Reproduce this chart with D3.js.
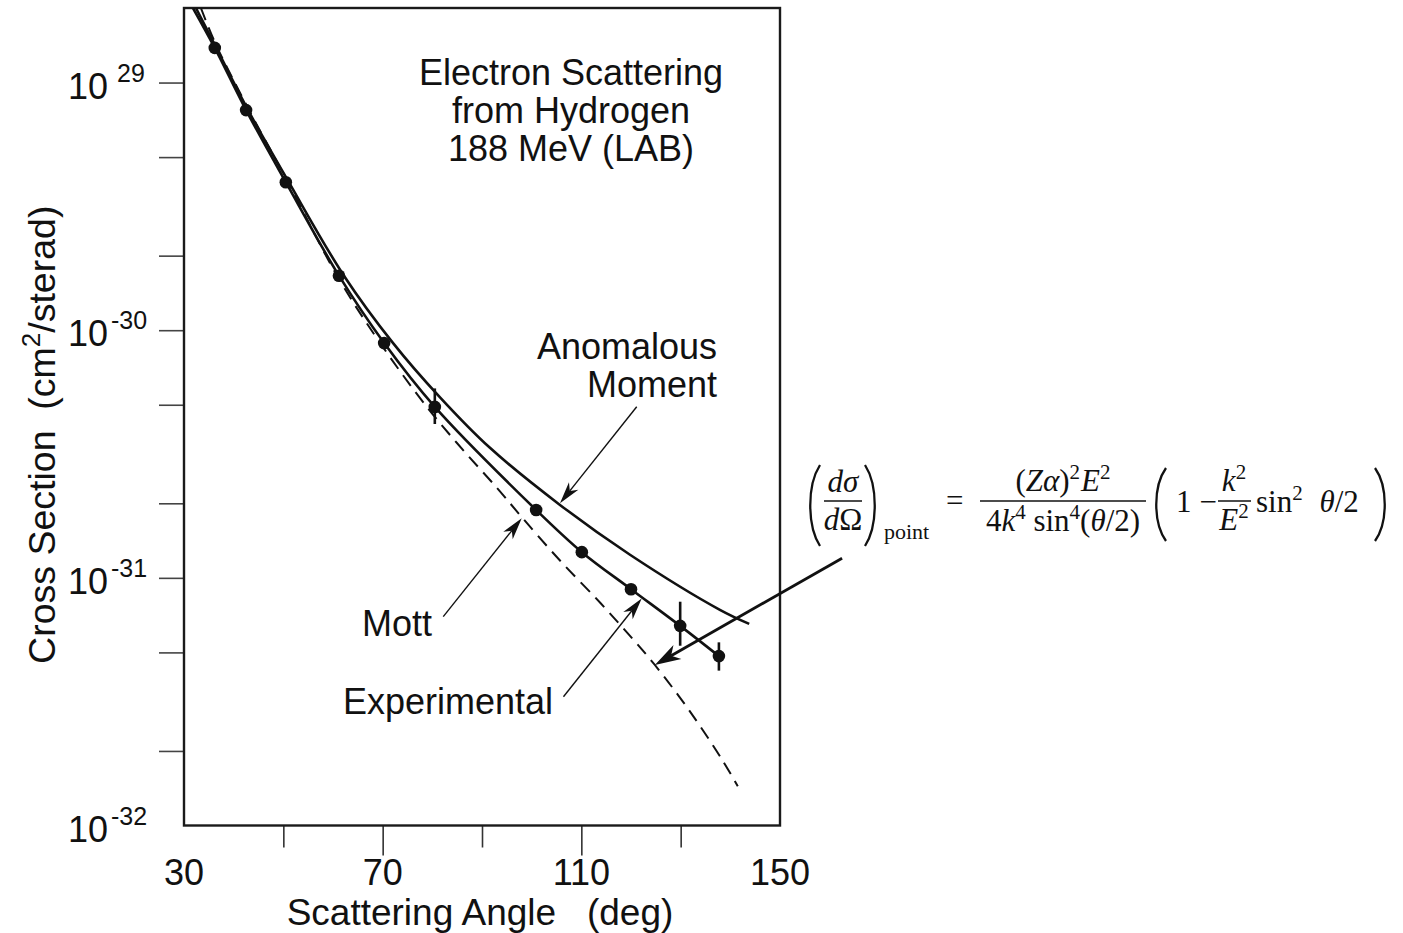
<!DOCTYPE html>
<html>
<head>
<meta charset="utf-8">
<script src="https://cdn.jsdelivr.net/npm/d3@7"></script>
<style>
  body { margin: 0; background: #fff; }
  svg text { font-family: "Liberation Sans", Arial, Helvetica, sans-serif; fill: #111; white-space: pre; }
  .tex text { font-family: "Liberation Serif", "Times New Roman", serif; }
</style>
</head>
<body>
<svg id="chart" width="1403" height="933"></svg>
<script>
// Electron scattering from hydrogen, 188 MeV (LAB)
// angles in degrees, cross sections in cm^2/sterad

// measured points
const measuredAngles = [36.2, 42.5, 50.5, 61.2, 70.3, 80.5, 100.9, 110.1, 120.0, 129.9, 137.7];
const measuredValues = [1.38e-29, 7.74e-30, 3.96e-30, 1.66e-30, 8.87e-31, 4.90e-31, 1.88e-31, 1.27e-31, 9.0e-32, 6.4e-32, 4.83e-32];
// error bars
const errorAngles = [80.5, 129.9, 137.7];
const errorLow = [4.18e-31, 5.32e-32, 4.22e-32];
const errorHigh = [5.82e-31, 8.01e-32, 5.49e-32];

// experimental fit curve
const fitAngles = [31.8, 36.2, 42.5, 50.5, 61.2, 70.3, 80.5, 100.9, 110.1, 120.0, 129.9, 137.7];
const fitValues = [2.0e-29, 1.38e-29, 7.74e-30, 3.96e-30, 1.66e-30, 8.87e-31, 4.90e-31, 1.88e-31, 1.27e-31, 9.0e-32, 6.4e-32, 4.83e-32];

// point-charge (Mott) curve
const mottAngles = [33.4, 36.4, 42.7, 50.9, 61.2, 69.5, 78.9, 86.2, 93.0, 98.1, 105.7, 113.8, 119.8, 124.8, 131.7, 138.3, 141.5];
const mottValues = [2.0e-29, 1.426e-29, 8.02e-30, 3.96e-30, 1.61e-30, 8.87e-31, 4.90e-31, 3.28e-31, 2.31e-31, 1.75e-31, 1.175e-31, 7.93e-32, 5.83e-32, 4.45e-32, 2.92e-32, 1.85e-32, 1.44e-32];

// anomalous magnetic moment curve
const anomAngles = [32.4, 36.5, 42.9, 51.1, 62.2, 72.1, 81.5, 91.6, 105.7, 119.8, 137.9, 143.8];
const anomValues = [2.0e-29, 1.38e-29, 7.74e-30, 3.96e-30, 1.66e-30, 8.87e-31, 5.37e-31, 3.35e-31, 1.97e-31, 1.24e-31, 7.43e-32, 6.52e-32];

// axis ticks
const xMajorTicks = [70, 110];
const xMinorTicks = [50, 90, 130];
const xTickLabels = [30, 70, 110, 150];
const yTicks = [1e-29, 5e-30, 2e-30, 1e-30, 5e-31, 2e-31, 1e-31, 5e-32, 2e-32];
const yLabelValues = [1e-29, 1e-30, 1e-31, 1e-32];
const yLabelExponents = ["29", "-30", "-31", "-32"];

// annotation arrows: [angle0, value0, angle1, value1] (tail -> head)
const arrowAnom = [121.15, 4.91e-31, 105.7, 2.0e-31];
const arrowMott = [82.2, 6.97e-32, 98.0, 1.74e-31];
const arrowExp = [106.4, 3.31e-32, 122.15, 8.26e-32];
const arrowFormula = [162.5, 1.20e-31, 124.8, 4.45e-32];

const svg = d3.select("#chart");
const plot = { left: 184, right: 780, top: 8, bottom: 825.5 };

const x = d3.scaleLinear().domain([30, 150]).range([plot.left, plot.right]);
const y = d3.scaleLog().domain([1e-32, 2e-29]).range([plot.bottom, plot.top]);

svg.append("defs").append("clipPath").attr("id", "plotClip")
  .append("rect")
  .attr("x", plot.left).attr("y", plot.top)
  .attr("width", plot.right - plot.left).attr("height", plot.bottom - plot.top);

// y ticks (outside, left)
const yAxis = svg.append("g")
  .attr("transform", `translate(${plot.left},0)`)
  .call(d3.axisLeft(y).tickValues(yTicks).tickSize(25).tickFormat(""));
yAxis.select(".domain").remove();
yAxis.selectAll(".tick line").attr("stroke", "#444").attr("stroke-width", 1.6);

// x ticks (outside, below)
const xMinor = svg.append("g")
  .attr("transform", `translate(0,${plot.bottom})`)
  .call(d3.axisBottom(x).tickValues(xMinorTicks).tickSize(22).tickFormat(""));
const xMajor = svg.append("g")
  .attr("transform", `translate(0,${plot.bottom})`)
  .call(d3.axisBottom(x).tickValues(xMajorTicks).tickSize(30).tickFormat(""));
[xMinor, xMajor].forEach(g => {
  g.select(".domain").remove();
  g.selectAll(".tick line").attr("stroke", "#333").attr("stroke-width", 1.6);
});

// frame
svg.append("rect")
  .attr("x", plot.left).attr("y", plot.top)
  .attr("width", plot.right - plot.left).attr("height", plot.bottom - plot.top)
  .attr("fill", "none").attr("stroke", "#1a1a1a").attr("stroke-width", 2.4);

// tick labels
const fs = 36;
svg.append("g").selectAll("text").data(xTickLabels).join("text")
  .attr("x", d => x(d)).attr("y", 885)
  .attr("text-anchor", "middle").attr("font-size", fs)
  .text(d => d);

const yl = svg.append("g").selectAll("text").data(yLabelValues).join("text")
  .attr("x", 68).attr("y", d => y(d) + 16)
  .attr("font-size", fs);
yl.append("tspan").text("10");
yl.append("tspan")
  .attr("dx", (d, i) => yLabelExponents[i] === "29" ? 9 : 3)
  .attr("dy", -17).attr("font-size", 25)
  .text((d, i) => yLabelExponents[i]);

// axis titles
svg.append("text")
  .attr("x", 480).attr("y", 925)
  .attr("text-anchor", "middle").attr("font-size", 37)
  .text("Scattering Angle   (deg)");

const ytitle = svg.append("text")
  .attr("transform", `translate(55,${(plot.top + plot.bottom) / 2 + 18}) rotate(-90)`)
  .attr("text-anchor", "middle").attr("font-size", 37.5);
ytitle.append("tspan").text("Cross Section  (cm");
ytitle.append("tspan").attr("dy", -15).attr("font-size", 26).text("2");
ytitle.append("tspan").attr("dy", 15).text("/sterad)");

// chart title
const titleLines = ["Electron Scattering", "from Hydrogen", "188 MeV (LAB)"];
svg.append("g").selectAll("text").data(titleLines).join("text")
  .attr("x", 571).attr("y", (d, i) => 85 + i * 38)
  .attr("text-anchor", "middle").attr("font-size", fs)
  .text(d => d);

// curves
const curves = svg.append("g").attr("clip-path", "url(#plotClip)");
const line = d3.line().x(d => x(d[0])).y(d => y(d[1])).curve(d3.curveCatmullRom.alpha(0.5));

curves.append("path")
  .datum(mottAngles.map((a, i) => [a, mottValues[i]]))
  .attr("d", line).attr("fill", "none")
  .attr("stroke", "#111").attr("stroke-width", 2)
  .attr("stroke-dasharray", "13 8");

curves.append("path")
  .datum(anomAngles.map((a, i) => [a, anomValues[i]]))
  .attr("d", line).attr("fill", "none")
  .attr("stroke", "#111").attr("stroke-width", 2.6);

curves.append("path")
  .datum(fitAngles.map((a, i) => [a, fitValues[i]]))
  .attr("d", line).attr("fill", "none")
  .attr("stroke", "#111").attr("stroke-width", 2.6);

// error bars and points
svg.append("g").selectAll("line").data(errorAngles).join("line")
  .attr("x1", d => x(d)).attr("x2", d => x(d))
  .attr("y1", (d, i) => y(errorHigh[i])).attr("y2", (d, i) => y(errorLow[i]))
  .attr("stroke", "#111").attr("stroke-width", 2.6);

svg.append("g").selectAll("circle").data(measuredAngles).join("circle")
  .attr("cx", d => x(d)).attr("cy", (d, i) => y(measuredValues[i]))
  .attr("r", 6.3).attr("fill", "#111");

// arrows
function arrow(spec, width, headLen, headW) {
  const x0 = x(spec[0]), y0 = y(spec[1]), x1 = x(spec[2]), y1 = y(spec[3]);
  const dx = x1 - x0, dy = y1 - y0, len = Math.hypot(dx, dy);
  const ux = dx / len, uy = dy / len, px = -uy, py = ux;
  const bx = x1 - ux * headLen, by = y1 - uy * headLen;
  const nx = x1 - ux * headLen * 0.72, ny = y1 - uy * headLen * 0.72;
  svg.append("line")
    .attr("x1", x0).attr("y1", y0).attr("x2", nx).attr("y2", ny)
    .attr("stroke", "#111").attr("stroke-width", width);
  svg.append("path")
    .attr("d", `M${x1},${y1}L${bx + px * headW / 2},${by + py * headW / 2}L${nx},${ny}L${bx - px * headW / 2},${by - py * headW / 2}Z`)
    .attr("fill", "#111");
}
arrow(arrowAnom, 1.4, 22, 12);
arrow(arrowMott, 1.4, 22, 12);
arrow(arrowExp, 1.4, 22, 12);
arrow(arrowFormula, 2.8, 26, 16);

// curve labels
const labels = [
  { t: "Anomalous", x: 717, y: 359, a: "end" },
  { t: "Moment", x: 717, y: 397, a: "end" },
  { t: "Mott", x: 362, y: 636, a: "start" },
  { t: "Experimental", x: 343, y: 714, a: "start" }
];
svg.append("g").selectAll("text").data(labels).join("text")
  .attr("x", d => d.x).attr("y", d => d.y)
  .attr("text-anchor", d => d.a).attr("font-size", fs)
  .text(d => d.t);

// point-charge cross section formula
const tex = svg.append("g").attr("class", "tex");
const tfs = 31, sfs = 21, sup = -12;
function bigParen(x0, top, bot, open) {
  const w = 13, mid = (top + bot) / 2;
  const xe = open ? x0 + w : x0, xm = open ? x0 : x0 + w;
  tex.append("path")
    .attr("d", `M${xe},${top}C${xm},${mid - (bot - top) * 0.25} ${xm},${mid + (bot - top) * 0.25} ${xe},${bot}`)
    .attr("fill", "none").attr("stroke", "#111").attr("stroke-width", 2.3);
}
function bar(x0, x1, barY) {
  tex.append("line").attr("x1", x0).attr("x2", x1).attr("y1", barY).attr("y2", barY)
    .attr("stroke", "#111").attr("stroke-width", 1.4);
}
function txt(xp, yp, anchor, parts, size) {
  const t = tex.append("text").attr("x", xp).attr("y", yp)
    .attr("text-anchor", anchor).attr("font-size", size || tfs);
  parts.forEach(p => {
    const s = t.append("tspan").text(p.s);
    if (p.i) s.attr("font-style", "italic");
    if (p.fs) s.attr("font-size", p.fs);
    if (p.dy) s.attr("dy", p.dy);
    if (p.dx) s.attr("dx", p.dx);
  });
  return t;
}
// (dσ/dΩ)_point
bigParen(807, 465, 546, true);
txt(843, 492, "middle", [{ s: "dσ", i: true }]);
bar(824, 862, 501);
txt(843, 530, "middle", [{ s: "d", i: true }, { s: "Ω" }]);
bigParen(865, 465, 546, false);
txt(884, 539, "start", [{ s: "point" }], 22);
txt(946, 511, "start", [{ s: "=" }]);
// (Zα)^2 E^2 / (4 k^4 sin^4(θ/2))
txt(1063, 491, "middle", [
  { s: "(" }, { s: "Zα", i: true }, { s: ")" }, { s: "2", fs: sfs, dy: sup },
  { s: "E", i: true, dy: -sup, dx: 1 }, { s: "2", fs: sfs, dy: sup }
]);
bar(980, 1146, 501);
txt(1063, 531, "middle", [
  { s: "4" }, { s: "k", i: true }, { s: "4", fs: sfs, dy: sup },
  { s: " sin", dy: -sup }, { s: "4", fs: sfs, dy: sup }, { s: "(", dy: -sup },
  { s: "θ", i: true }, { s: "/2)" }
]);
// (1 − k^2/E^2 sin^2 θ/2)
bigParen(1153, 468, 541, true);
txt(1176, 512, "start", [{ s: "1" }, { s: "−", dx: 8 }]);
txt(1234, 491, "middle", [{ s: "k", i: true }, { s: "2", fs: sfs, dy: sup }]);
bar(1218, 1251, 501);
txt(1234, 530, "middle", [{ s: "E", i: true }, { s: "2", fs: sfs, dy: sup }]);
txt(1256, 512, "start", [
  { s: "sin" }, { s: "2", fs: sfs, dy: sup }, { s: " ", dy: -sup, dx: 9 },
  { s: "θ", i: true }, { s: "/2" }
]);
bigParen(1375, 468, 541, false);
</script>
</body>
</html>
